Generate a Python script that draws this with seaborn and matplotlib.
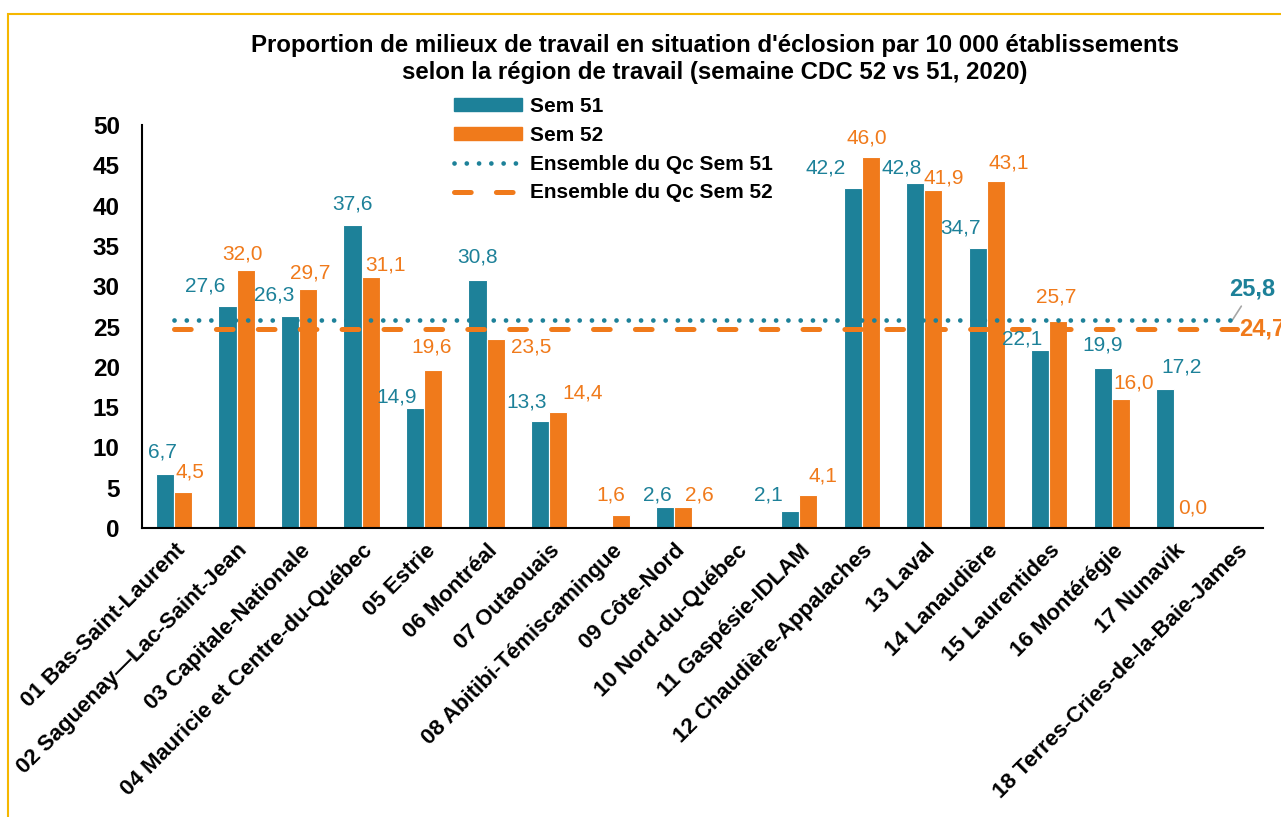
import matplotlib
matplotlib.use("Agg")
import matplotlib.pyplot as plt
import matplotlib.patches as mpatches
from matplotlib.lines import Line2D
import matplotlib.transforms as mtransforms
import numpy as np
import pandas as pd
import seaborn as sns

# ---------------- data ----------------
regions = [
    "01 Bas-Saint-Laurent", "02 Saguenay\u2014Lac-Saint-Jean", "03 Capitale-Nationale",
    "04 Mauricie et Centre-du-Qu\u00e9bec", "05 Estrie", "06 Montr\u00e9al", "07 Outaouais",
    "08 Abitibi-T\u00e9miscamingue", "09 C\u00f4te-Nord", "10 Nord-du-Qu\u00e9bec",
    "11 Gasp\u00e9sie-IDLAM", "12 Chaudi\u00e8re-Appalaches", "13 Laval", "14 Lanaudi\u00e8re",
    "15 Laurentides", "16 Mont\u00e9r\u00e9gie", "17 Nunavik", "18 Terres-Cries-de-la-Baie-James",
]
sem51 = [6.7, 27.6, 26.3, 37.6, 14.9, 30.8, 13.3, np.nan, 2.6, np.nan,
         2.1, 42.2, 42.8, 34.7, 22.1, 19.9, 17.2, np.nan]
sem52 = [4.5, 32.0, 29.7, 31.1, 19.6, 23.5, 14.4, 1.6, 2.6, np.nan,
         4.1, 46.0, 41.9, 43.1, 25.7, 16.0, 0.0, np.nan]
qc_sem51 = 25.8
qc_sem52 = 24.7
series_names = ["Sem 51", "Sem 52"]
line_names = ["Ensemble du Qc Sem 51", "Ensemble du Qc Sem 52"]
title = ("Proportion de milieux de travail en situation d'\u00e9closion par 10 000 \u00e9tablissements\n"
         "selon la r\u00e9gion de travail (semaine CDC 52 vs 51, 2020)")
yticks = [0, 5, 10, 15, 20, 25, 30, 35, 40, 45, 50]

# label nudges in pixels (dx, distance of label centre above bar top)
nudge51 = [(-3, 22), (-22, 20), (-16, 21), (0, 21), (-18, 11), (0, 23), (-13, 19), None,
           (-8, 12), None, (-22, 16), (-27, 20), (-13, 15), (-17, 20), (-18, 11), (0, 23),
           (16, 22), None]
nudge52 = [(7, 20), (-3, 16), (2, 16), (15, 12), (-2, 23), (36, -8), (24, 19), (-10, 20),
           (16, 12), None, (15, 19), (-4, 19), (11, 12), (13, 18), (-2, 24), (13, 16),
           (9, 20), None]

# ---------------- style ----------------
TEAL = "#1d8199"
ORANGE = "#f07a1b"
sns.set_theme(style="white")
plt.rcParams["font.family"] = ["Liberation Sans", "DejaVu Sans"]
for k in ["text.color", "axes.labelcolor", "xtick.color", "ytick.color"]:
    plt.rcParams[k] = "black"

W, H = 1281, 817
fig = plt.figure(figsize=(W / 100, H / 100), dpi=100)
fig.patch.set_facecolor("white")
ax = fig.add_axes([142 / W, 1 - 528 / H, (1263 - 142) / W, (528 - 125) / H])

rows = []
for r, a, b in zip(regions, sem51, sem52):
    if not np.isnan(a):
        rows.append((r, series_names[0], a))
    if not np.isnan(b):
        rows.append((r, series_names[1], b))
df = pd.DataFrame(rows, columns=["Region", "Semaine", "Valeur"])

width = 0.58
sns.barplot(data=df, x="Region", y="Valeur", hue="Semaine", order=regions,
            hue_order=series_names, palette=[TEAL, ORANGE], width=width,
            edgecolor="white", linewidth=0.8, errorbar=None, legend=False,
            saturation=1, ax=ax, zorder=2)

n = len(regions)
ax.plot([0, n - 1], [qc_sem51, qc_sem51], color=TEAL, lw=3.4,
        ls=(0, (0.01, 2.59)), dash_capstyle="round", zorder=4)
ax.plot([0, n - 1], [qc_sem52, qc_sem52], color=ORANGE, lw=3.6,
        ls=(0, (3.34, 5.04)), dash_capstyle="round", zorder=3)

ax.set_ylim(0, 50)
ax.set_xlim(-0.512, 17.42)
ax.set_yticks(yticks)
ax.set_yticklabels([str(t) for t in yticks], fontsize=17.5, fontweight="bold")
ax.tick_params(axis="y", length=0, pad=16)
ax.tick_params(axis="x", length=0, pad=4)
ax.set_xlabel("")
ax.set_ylabel("")
for s in ["top", "right"]:
    ax.spines[s].set_visible(False)
for s in ["left", "bottom"]:
    ax.spines[s].set_color("black")
    ax.spines[s].set_linewidth(1.5)
ax.grid(False)

ax.set_xticks(range(n))
ax.set_xticklabels(regions, rotation=45, ha="right", va="center",
                   rotation_mode="anchor", fontsize=16, fontweight="bold")
off = mtransforms.ScaledTranslation(8 / 100, -14 / 100, fig.dpi_scale_trans)
for lab in ax.get_xticklabels():
    lab.set_transform(lab.get_transform() + off)

# value labels
px = 0.72
def fmt(v):
    return f"{v:.1f}".replace(".", ",")

for i in range(n):
    for vals, nudges, col, sgn in ((sem51, nudge51, TEAL, -1), (sem52, nudge52, ORANGE, 1)):
        v = vals[i]
        nud = nudges[i]
        if np.isnan(v) or nud is None:
            continue
        ax.annotate(fmt(v), xy=(i + sgn * width / 4, v), xytext=(nud[0] * px, nud[1] * px),
                    textcoords="offset points", ha="center", va="center",
                    fontsize=15, color=col, zorder=5, annotation_clip=False)

# right-hand totals
ax.annotate(fmt(qc_sem51), xy=(n - 1 - 0.07, qc_sem51), xytext=(20 * px, 31 * px),
            textcoords="offset points", ha="center", va="center", fontsize=17,
            fontweight="bold", color=TEAL, annotation_clip=False,
            arrowprops=dict(arrowstyle="-", color="#a6a6a6", lw=1.2, shrinkA=2, shrinkB=0))
ax.annotate(fmt(qc_sem52), xy=(n - 1, qc_sem52), xytext=(2 * px, 0),
            textcoords="offset points", ha="left", va="center", fontsize=17,
            fontweight="bold", color=ORANGE, annotation_clip=False)

# legend
handles = [mpatches.Patch(color=TEAL), mpatches.Patch(color=ORANGE),
           Line2D([], [], color=TEAL, lw=3.4, ls=(0, (0.01, 2.59)), dash_capstyle="round"),
           Line2D([], [], color=ORANGE, lw=3.6, ls=(0, (3.34, 5.04)), dash_capstyle="round")]
ax.legend(handles, series_names + line_names, loc="upper left",
          bbox_to_anchor=(454 / W, 1 - 97 / H), bbox_transform=fig.transFigure,
          frameon=False, prop={"size": 15, "weight": "bold"}, handlelength=3.27,
          handleheight=0.53, handletextpad=0.4, labelspacing=0.47, borderpad=0,
          borderaxespad=0)

fig.text(715 / W, 1 - 59 / H, title, ha="center", va="center", fontsize=17.3,
         fontweight="bold", linespacing=1.25)

# yellow frame
fig.add_artist(mpatches.Rectangle((8 / W, -0.1), 1.2, 1 - 14 / H + 0.1,
                                  transform=fig.transFigure, fill=False,
                                  edgecolor="#f5b700", lw=1.5))

fig.savefig("out.png", dpi=100)
